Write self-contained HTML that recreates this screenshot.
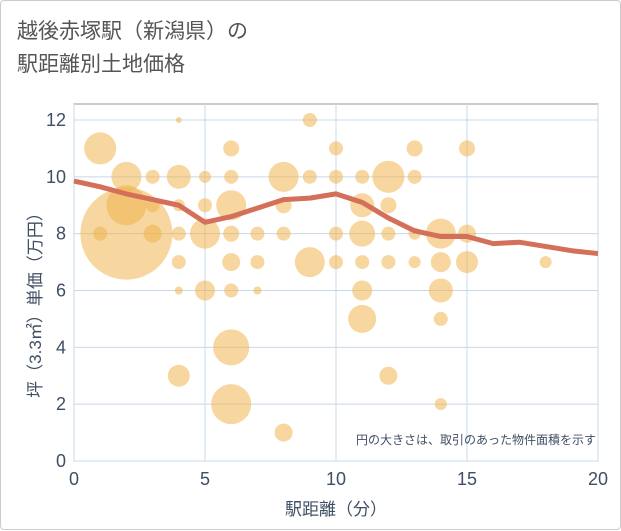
<!DOCTYPE html>
<html><head><meta charset="utf-8"><style>
body{margin:0;background:#fff;font-family:"Liberation Sans","Noto Sans CJK JP",sans-serif}
#wrap{position:relative;width:619px;height:528px;border:1px solid #ccc;border-radius:4px;background:#fff}
h1{position:absolute;left:16px;top:14px;margin:0;font-weight:normal;font-size:21px;line-height:33px;color:#555}
</style></head><body>
<div id="wrap">
<h1>越後赤塚駅（新潟県）の<br>駅距離別土地価格</h1>
<svg id="c" width="621" height="530" style="position:absolute;left:0;top:0"></svg>
</div>
<script>
const xTicks=[0,5,10,15,20];
const yTicks=[0,2,4,6,8,10,12];
const lineX=[0,1,2,3,4,5,6,7,8,9,10,11,12,13,14,15,16,17,18,19,20];
const lineY=[9.85,9.65,9.4,9.2,9.0,8.4,8.6,8.9,9.2,9.25,9.4,9.1,8.55,8.1,7.9,7.9,7.65,7.7,7.55,7.4,7.3];
const bubX=[1,2,2,2,1,3,3,3,4,4,4,4,4,4,4,5,5,5,5,6,6,6,6,6,6,6,6,7,7,7,8,8,8,8,9,9,9,10,10,10,10,11,11,11,11,11,11,12,12,12,12,12,13,13,13,13,14,14,14,14,14,15,15,15,18];
const bubY=[11,10,9,8,8,10,9,8,12,10,9,8,7,6,3,10,9,8,6,11,10,9,8,7,6,4,2,8,7,6,10,9,8,1,12,10,7,11,10,8,7,10,9,8,7,6,5,10,9,8,7,3,11,10,8,7,8,7,6,5,2,11,8,7,7];
const bubR=[16,15,20,46,7,7,7,9,3,12,6,7,7,4,11,6,7,15,10,8,7,15,8,9,7,18,20,7,7,4,15,8,7,9,7,7,15,7,7,7,7,7,12,13,7,10,14,16,8,7,7,9,8,7,6,6,15,10,12,7,6,8,9,11,6];
const L=73,R=597,T=103,B=460;
const sx=v=>L+(R-L)*v/20, sy=v=>B-(B-119)*v/12;
const svg=document.getElementById('c'),NS='http://www.w3.org/2000/svg';
const TC='#3f4f63';
function mk(t,a,p){const e=document.createElementNS(NS,t);for(const k in a)e.setAttribute(k,a[k]);(p||svg).appendChild(e);return e;}
let e;
e=mk('rect',{x:L,y:T,width:R-L,height:B-T,fill:'#fff',stroke:'#999'});


xTicks.forEach(v=>{e=mk('line',{x1:sx(v),x2:sx(v),y1:T,y2:B,stroke:'#c8d8e8'});


e=mk('text',{x:sx(v),y:484,'text-anchor':'middle','font-size':18,fill:TC});e.textContent=v;

});
yTicks.forEach(v=>{e=mk('line',{x1:L,x2:R,y1:sy(v),y2:sy(v),stroke:'#c8d8e8'});


e=mk('text',{x:65,y:sy(v)+6,'text-anchor':'end','font-size':18,fill:TC});e.textContent=v;

});
bubX.forEach((x,i)=>{e=mk('circle',{cx:sx(x),cy:sy(bubY[i]),r:bubR[i],fill:'rgba(240,180,80,0.55)'});

});
e=mk('polyline',{points:lineX.map((x,i)=>sx(x)+','+sy(lineY[i])).join(' '),fill:'none',stroke:'#d4705a','stroke-width':5,'stroke-linejoin':'round'});


e=mk('text',{x:595,y:443,'text-anchor':'end','font-size':12,fill:TC});e.textContent='円の大きさは、取引のあった物件面積を示す';


e=mk('text',{x:335,y:514,'text-anchor':'middle','font-size':17,fill:TC});e.textContent='駅距離（分）';


e=mk('text',{x:0,y:0,'text-anchor':'middle','font-size':17,fill:TC,transform:'translate(40,300) rotate(-90)'});e.textContent='坪（3.3㎡）単価（万円）';


</script>
</body></html>
